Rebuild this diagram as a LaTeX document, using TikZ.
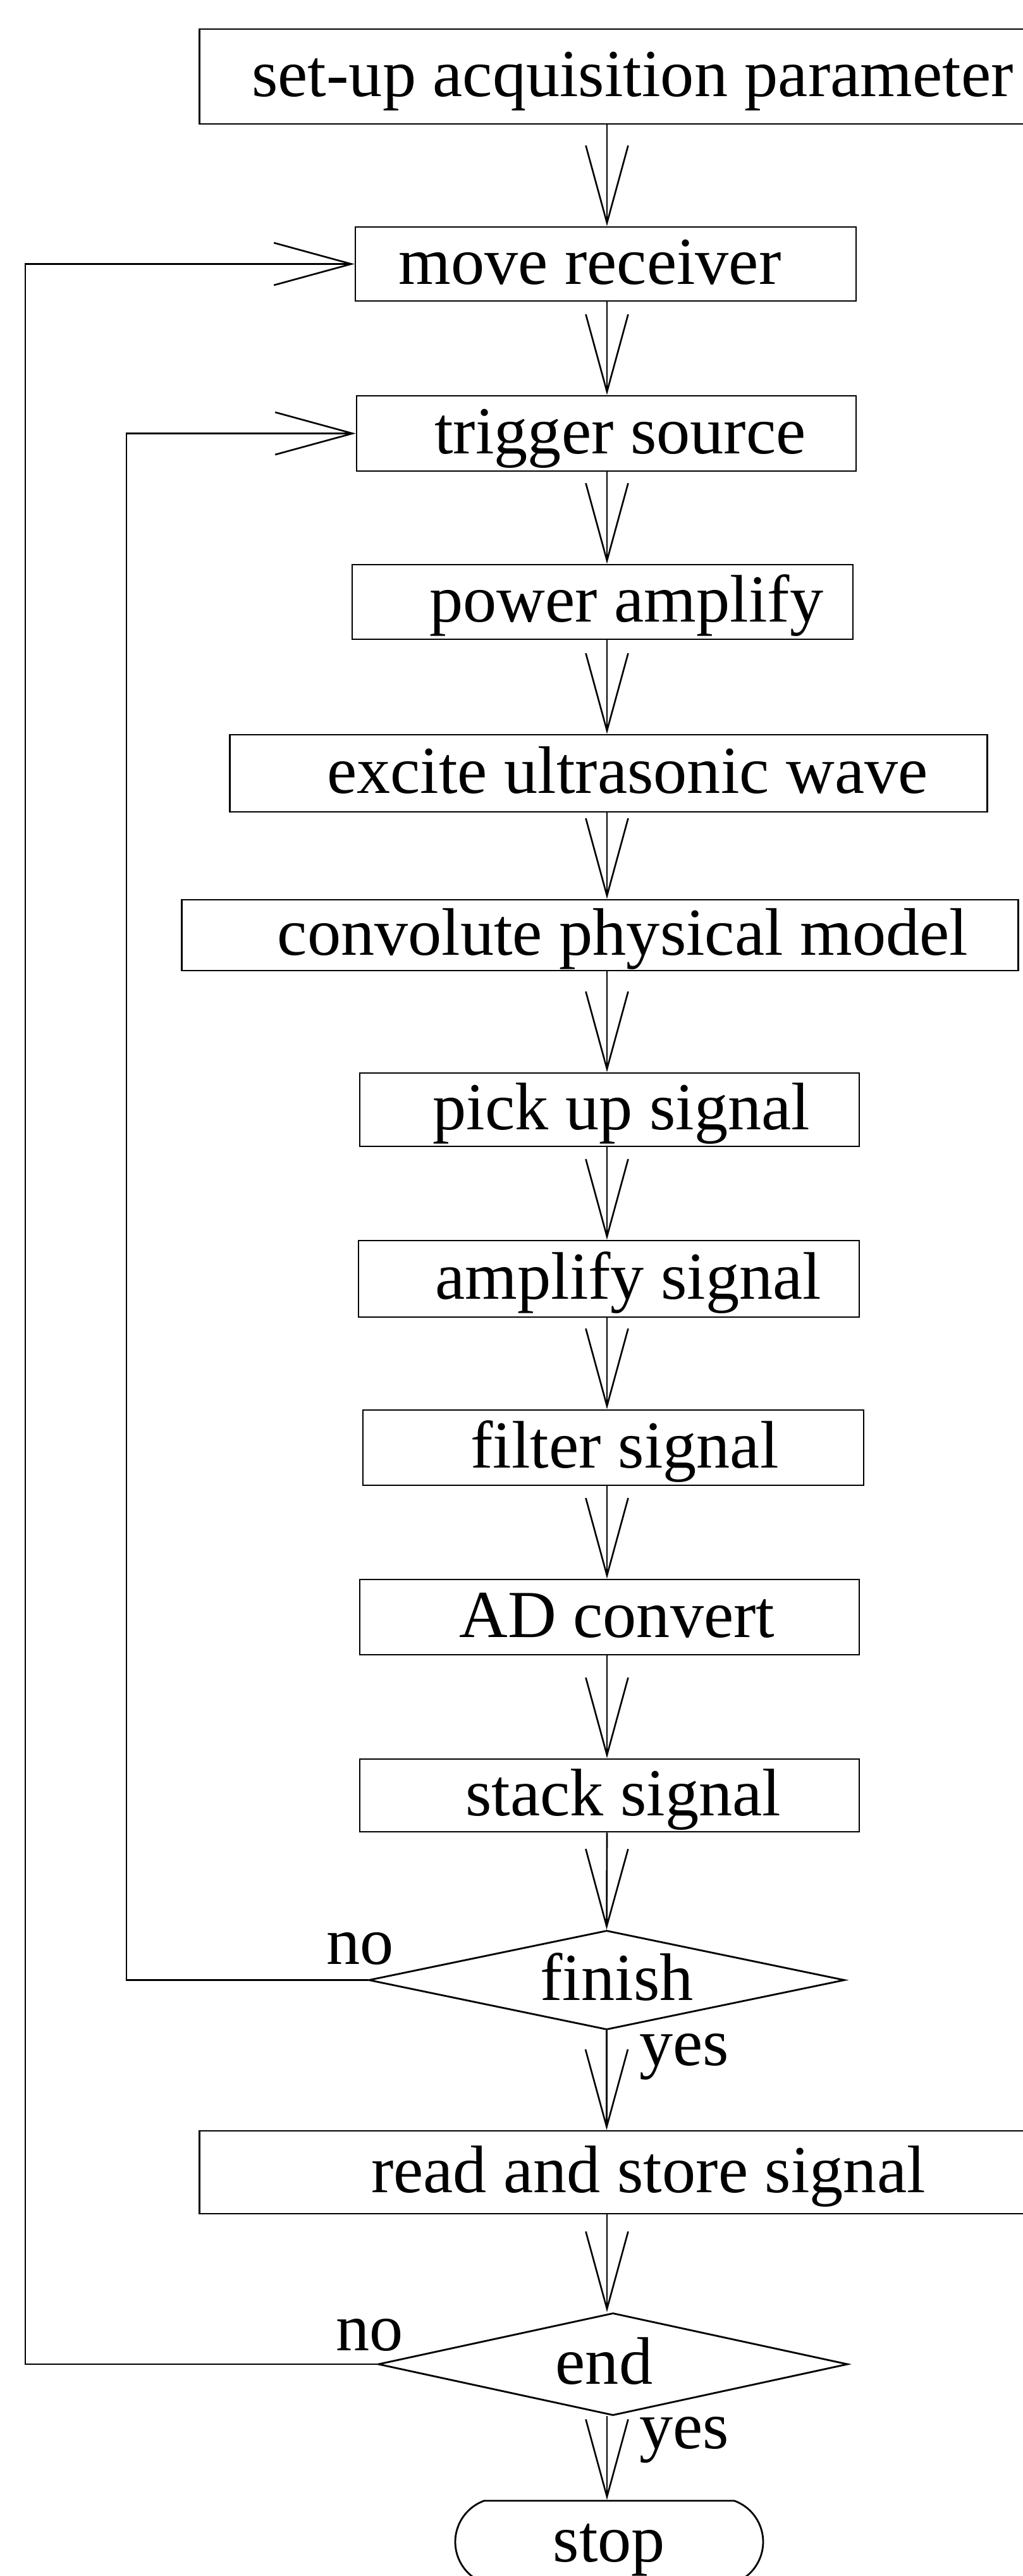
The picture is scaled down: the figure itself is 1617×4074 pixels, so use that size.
\documentclass[tikz,border=0pt]{standalone}
\usepackage{fontspec}
\setmainfont{Liberation Serif}
\usetikzlibrary{arrows.meta,shapes.geometric,shapes.misc}
\begin{document}
\begin{tikzpicture}[x=0.02cm,y=-0.02cm,
  every node/.style={font=\fontsize{60.5}{72}\selectfont},
  box/.style={draw, line width=1.6pt, rectangle, inner sep=0pt, text height=45pt, text depth=9pt},
  dec/.style={draw, line width=1.6pt, diamond, aspect=4.7, inner sep=0pt, text height=45pt, text depth=9pt},
  term/.style={draw, line width=1.6pt, rounded rectangle, rounded rectangle arc length=140, inner sep=0pt, text height=45pt, text depth=9pt},
  arr/.style={line width=1.5pt, -{Straight Barb[length=2.45cm,width=1.34cm]}},
  lbl/.style={anchor=base west, inner sep=0pt}]
\useasboundingbox (0,0) rectangle (1617,4074);
\coordinate (col) at (960,0);
\coordinate (la) at (200,0);
\coordinate (lb) at (40,0);

\node[box, minimum width=26.1cm, minimum height=3.0cm] (setup) at (967.5,121) {\hspace*{1.32cm}set-up acquisition parameter};
\node[box, minimum width=15.84cm, minimum height=2.34cm] (move) at (958,417.5) {move receiver\hspace*{1.0cm}};
\node[box, minimum width=15.8cm, minimum height=2.38cm] (trigger) at (959,685.5) {\hspace*{0.88cm}trigger source};
\node[box, minimum width=15.84cm, minimum height=2.36cm] (power) at (953,952) {\hspace*{1.52cm}power amplify};
\node[box, minimum width=23.98cm, minimum height=2.44cm] (excite) at (962.5,1223) {\hspace*{1.2cm}excite ultrasonic wave};
\node[box, minimum width=26.48cm, minimum height=2.24cm] (conv) at (949,1479) {\hspace*{1.44cm}convolute physical model};
\node[box, minimum width=15.8cm, minimum height=2.32cm] (pick) at (964,1755) {\hspace*{0.76cm}pick up signal};
\node[box, minimum width=15.84cm, minimum height=2.42cm] (amp) at (963,2022.5) {\hspace*{1.24cm}amplify signal};
\node[box, minimum width=15.84cm, minimum height=2.38cm] (filter) at (970,2289.5) {\hspace*{0.72cm}filter signal};
\node[box, minimum width=15.8cm, minimum height=2.38cm] (ad) at (964,2557.5) {\hspace*{0.48cm}AD convert};
\node[box, minimum width=15.8cm, minimum height=2.3cm] (stack) at (964,2839.5) {\hspace*{0.88cm}stack signal};
\node[dec, minimum width=15.06cm, minimum height=3.14cm] (finish) at (959.5,3131.5) {\hspace*{0.64cm}finish};
\node[box, minimum width=26.1cm, minimum height=2.62cm] (read) at (967.5,3435.5) {\hspace*{2.32cm}read and store signal};
\node[dec, minimum width=14.86cm, minimum height=3.24cm] (end) at (969.5,3739) {end\hspace*{0.56cm}};
\node[term, minimum width=9.74cm, minimum height=2.6cm] (stop) at (963.5,4020) {stop};

\node[lbl] (no1) at (516,3106) {no};
\node[lbl] (yes1) at (1011,3266) {yes};
\node[lbl] (no2) at (531,3717) {no};
\node[lbl] (yes2) at (1011,3872) {yes};

\draw[arr] (setup.south -| col) -- (move.north -| col);
\draw[arr] (move.south -| col) -- (trigger.north -| col);
\draw[arr] (trigger.south -| col) -- (power.north -| col);
\draw[arr] (power.south -| col) -- (excite.north -| col);
\draw[arr] (excite.south -| col) -- (conv.north -| col);
\draw[arr] (conv.south -| col) -- (pick.north -| col);
\draw[arr] (pick.south -| col) -- (amp.north -| col);
\draw[arr] (amp.south -| col) -- (filter.north -| col);
\draw[arr] (filter.south -| col) -- (ad.north -| col);
\draw[arr] (ad.south -| col) -- (stack.north -| col);
\draw[arr] (stack.south -| col) -- (finish.north);
\draw[arr] (finish.south) -- (read.north -| finish.south);
\draw[arr] (read.south -| col) -- (end.north -| col);
\draw[arr] (end.south -| col) -- (stop.north -| col);

\draw[arr] (finish.west) -- (finish.west -| la) |- (trigger.west);
\draw[arr] (end.west) -- (end.west -| lb) |- (move.west);
\end{tikzpicture}
\end{document}
